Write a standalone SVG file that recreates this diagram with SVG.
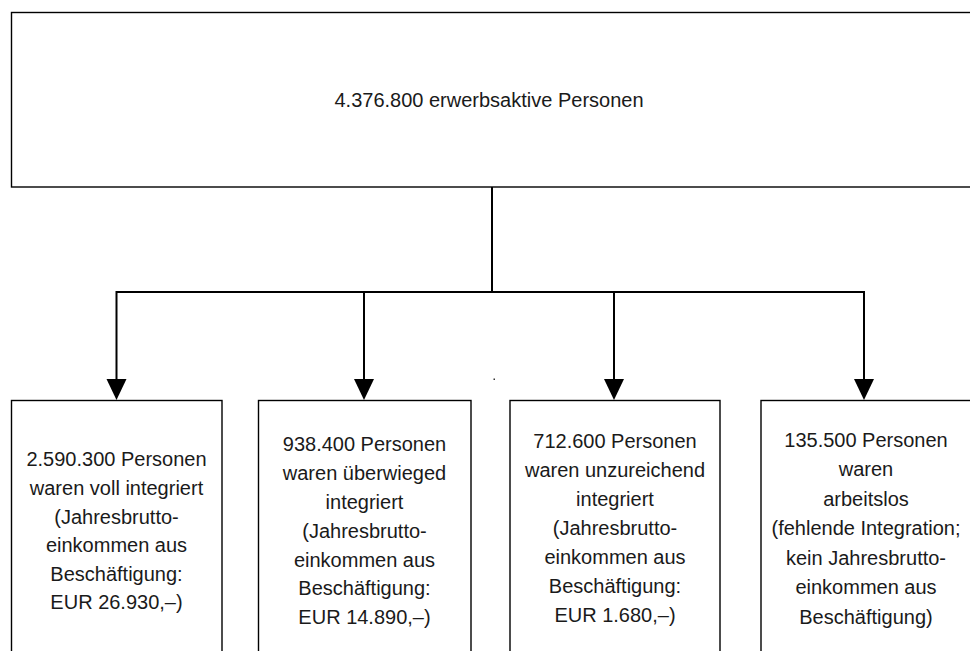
<svg xmlns="http://www.w3.org/2000/svg" width="970" height="651" viewBox="0 0 970 651">
  <style>
    .box { fill: #ffffff; stroke: #000000; stroke-width: 1.4; }
    .conn { fill: none; stroke: #000000; stroke-width: 2; }
    .t { font-family: "Liberation Sans", Arial, sans-serif; font-size: 20px; fill: #1a1a1a; text-anchor: middle; }
  </style>
  <defs>
    <marker id="arrow" markerUnits="userSpaceOnUse" markerWidth="22" markerHeight="22" viewBox="0 0 20 20" refX="10" refY="20" orient="auto-start-reverse">
      <path d="M0,0 L20,0 L10,20 Z" fill="#000000"/>
    </marker>
  </defs>
  <rect width="970" height="651" fill="#ffffff"/>

  <g id="top">
    <rect class="box" x="11.5" y="12.5" width="970" height="174.5"/>
    <text class="t" x="489" y="107">4.376.800 erwerbsaktive Personen</text>
  </g>

  <g id="connectors">
    <line class="conn" x1="492" y1="187" x2="492" y2="292"/>
    <line class="conn" x1="116.5" y1="292" x2="864" y2="292"/>
    <line class="conn" x1="116.5" y1="291" x2="116.5" y2="380"/>
    <path d="M106.5,379 L126.5,379 L116.5,400 Z" fill="#000"/>
    <line class="conn" x1="364" y1="292" x2="364" y2="380"/>
    <path d="M354,379 L374,379 L364,400 Z" fill="#000"/>
    <line class="conn" x1="614" y1="292" x2="614" y2="380"/>
    <path d="M604,379 L624,379 L614,400 Z" fill="#000"/>
    <line class="conn" x1="864" y1="291" x2="864" y2="380"/>
    <path d="M854,379 L874,379 L864,400 Z" fill="#000"/>
  </g>

  <rect x="493.5" y="378.5" width="1.5" height="1.5" fill="#333"/>

  <g id="n1">
    <rect class="box" x="11.5" y="400.5" width="210.5" height="270"/>
    <text class="t" x="116.5" y="466">2.590.300 Personen</text>
    <text class="t" x="116.5" y="495">waren voll integriert</text>
    <text class="t" x="116.5" y="523.5">(Jahresbrutto-</text>
    <text class="t" x="116.5" y="552">einkommen aus</text>
    <text class="t" x="116.5" y="581">Beschäftigung:</text>
    <text class="t" x="116.5" y="609">EUR 26.930,–)</text>
  </g>

  <g id="n2">
    <rect class="box" x="258.5" y="400.5" width="212.5" height="270"/>
    <text class="t" x="364.5" y="451">938.400 Personen</text>
    <text class="t" x="364.5" y="480">waren überwieged</text>
    <text class="t" x="364.5" y="509">integriert</text>
    <text class="t" x="364.5" y="538">(Jahresbrutto-</text>
    <text class="t" x="364.5" y="566.5">einkommen aus</text>
    <text class="t" x="364.5" y="595">Beschäftigung:</text>
    <text class="t" x="364.5" y="623.5">EUR 14.890,–)</text>
  </g>

  <g id="n3">
    <rect class="box" x="510" y="400.5" width="210" height="270"/>
    <text class="t" x="615" y="448">712.600 Personen</text>
    <text class="t" x="615" y="477">waren unzureichend</text>
    <text class="t" x="615" y="506">integriert</text>
    <text class="t" x="615" y="535">(Jahresbrutto-</text>
    <text class="t" x="615" y="564">einkommen aus</text>
    <text class="t" x="615" y="593">Beschäftigung:</text>
    <text class="t" x="615" y="622">EUR 1.680,–)</text>
  </g>

  <g id="n4">
    <rect class="box" x="761" y="400.5" width="230" height="270"/>
    <text class="t" x="866" y="447">135.500 Personen</text>
    <text class="t" x="866" y="476">waren</text>
    <text class="t" x="866" y="505.5">arbeitslos</text>
    <text class="t" x="866" y="535">(fehlende Integration;</text>
    <text class="t" x="866" y="564.5">kein Jahresbrutto-</text>
    <text class="t" x="866" y="594">einkommen aus</text>
    <text class="t" x="866" y="624">Beschäftigung)</text>
  </g>
</svg>
